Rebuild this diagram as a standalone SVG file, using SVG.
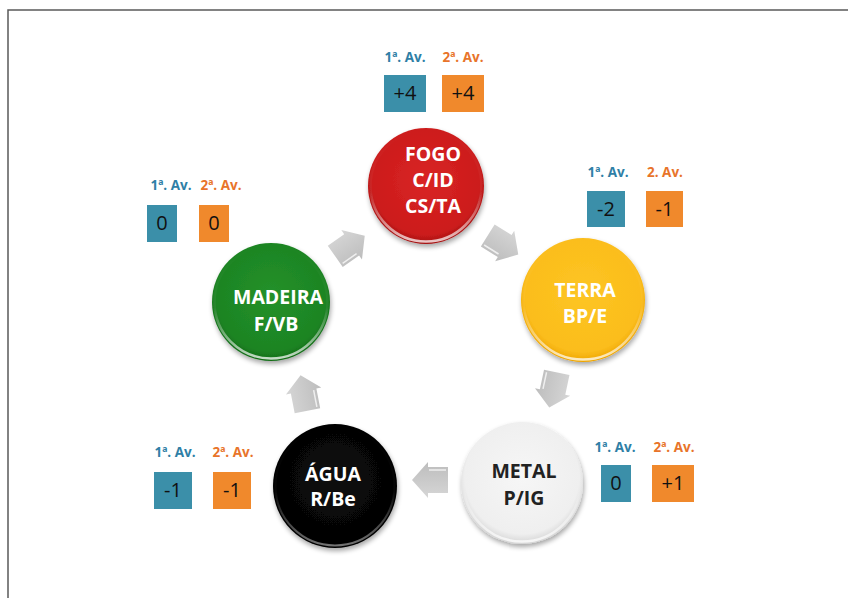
<svg xmlns="http://www.w3.org/2000/svg" width="848" height="598" viewBox="0 0 848 598">
<style>
.frame{fill:none;stroke:#5a5a5a;stroke-width:1.5}
.nt{font-family:"Open Sans","Liberation Sans",sans-serif;font-weight:bold;font-size:19.5px;text-anchor:middle;fill:#ffffff}
.ntd{fill:#222222}
.lb{font-family:"Open Sans","Liberation Sans",sans-serif;font-weight:bold;font-size:13.5px;text-anchor:middle}
.l1{fill:#2f7fa6}
.l2{fill:#e8742a}
.b1{fill:#3b8fa9}
.b2{fill:#f0892c}
.bt{font-family:"Open Sans","Liberation Sans",sans-serif;font-size:20px;text-anchor:middle;fill:#111111}
.arr{fill:url(#ga)}
.arrh{fill:none;stroke:#f4f4f4;stroke-width:1.5;opacity:0.9}
</style>
<defs>
<filter id="sh" x="-20%" y="-20%" width="140%" height="140%">
<feGaussianBlur in="SourceAlpha" stdDeviation="2.5"/>
<feOffset dx="1" dy="3" result="b"/>
<feComponentTransfer><feFuncA type="linear" slope="0.35"/></feComponentTransfer>
<feMerge><feMergeNode/><feMergeNode in="SourceGraphic"/></feMerge>
</filter>
<radialGradient id="gr" cx="0.5" cy="0.45" r="0.55">
<stop offset="0" stop-color="#d92424"/><stop offset="0.85" stop-color="#cc1c1c"/><stop offset="1" stop-color="#a31212"/>
</radialGradient>
<radialGradient id="gy" cx="0.5" cy="0.45" r="0.55">
<stop offset="0" stop-color="#fdc523"/><stop offset="0.85" stop-color="#fbbd1c"/><stop offset="1" stop-color="#eea400"/>
</radialGradient>
<radialGradient id="gw" cx="0.5" cy="0.45" r="0.55">
<stop offset="0" stop-color="#f6f6f6"/><stop offset="0.85" stop-color="#efefef"/><stop offset="1" stop-color="#d4d4d4"/>
</radialGradient>
<radialGradient id="gk" cx="0.5" cy="0.45" r="0.55">
<stop offset="0" stop-color="#0a0a0a"/><stop offset="0.85" stop-color="#050505"/><stop offset="1" stop-color="#000000"/>
</radialGradient>
<radialGradient id="gg" cx="0.5" cy="0.45" r="0.55">
<stop offset="0" stop-color="#23912a"/><stop offset="0.85" stop-color="#1d8423"/><stop offset="1" stop-color="#136b18"/>
</radialGradient>
<linearGradient id="rim" x1="0" y1="0" x2="0" y2="1">
<stop offset="0" stop-color="#ffffff" stop-opacity="0"/><stop offset="0.55" stop-color="#ffffff" stop-opacity="0.05"/><stop offset="1" stop-color="#ffffff" stop-opacity="0.75"/>
</linearGradient>
<linearGradient id="ga" x1="0" y1="0" x2="0" y2="1">
<stop offset="0" stop-color="#d6d6d6"/><stop offset="1" stop-color="#bdbdbd"/>
</linearGradient>
<polygon id="ar" points="-18,-13 2,-13 2,-18 18,0 2,18 2,13 -18,13"/>
</defs>

<rect width="848" height="598" fill="#ffffff"/>
<path class="frame" d="M8,598 V10 H848"/>

<g id="connectors">
<g transform="translate(350,246) rotate(-35)"><use href="#ar" class="arr"/><path class="arrh" d="M-16,10 H1"/></g>
<g transform="translate(503,245) rotate(32)"><use href="#ar" class="arr"/><path class="arrh" d="M-16,10 H1"/></g>
<g transform="translate(553,390) rotate(102)"><use href="#ar" class="arr"/><path class="arrh" d="M-16,10 H1"/></g>
<g transform="translate(430,480) rotate(180)"><use href="#ar" class="arr"/><path class="arrh" d="M-16,10 H1"/></g>
<g transform="translate(304,393) rotate(-101)"><use href="#ar" class="arr"/><path class="arrh" d="M-16,10 H1"/></g>
</g>

<g id="fogo">
<circle cx="426" cy="186" r="58" fill="url(#gr)" filter="url(#sh)"/>
<circle cx="426" cy="186" r="55.5" fill="none" stroke="url(#rim)" stroke-width="2.5"/>
<text class="nt" x="433" y="161">FOGO</text>
<text class="nt" x="433" y="187">C/ID</text>
<text class="nt" x="433" y="213">CS/TA</text>
<text class="lb l1" x="405" y="62">1ª. Av.</text>
<text class="lb l2" x="463" y="62">2ª. Av.</text>
<rect class="b1" x="384" y="75" width="42" height="37"/>
<rect class="b2" x="442" y="75" width="42" height="37"/>
<text class="bt" x="405" y="100">+4</text>
<text class="bt" x="463" y="100">+4</text>
</g>

<g id="terra">
<circle cx="583" cy="300" r="62" fill="url(#gy)" filter="url(#sh)"/>
<circle cx="583" cy="300" r="59.5" fill="none" stroke="url(#rim)" stroke-width="2.5"/>
<text class="nt" x="585" y="297">TERRA</text>
<text class="nt" x="585" y="323">BP/E</text>
<text class="lb l1" x="608" y="177">1ª. Av.</text>
<text class="lb l2" x="665" y="177">2. Av.</text>
<rect class="b1" x="587" y="191" width="38" height="36"/>
<rect class="b2" x="646" y="191" width="37" height="36"/>
<text class="bt" x="606" y="216">-2</text>
<text class="bt" x="664.5" y="216">-1</text>
</g>

<g id="metal">
<circle cx="522" cy="483" r="61" fill="url(#gw)" filter="url(#sh)"/>
<circle cx="522" cy="483" r="58.5" fill="none" stroke="url(#rim)" stroke-width="2.5"/>
<text class="nt ntd" x="524" y="478">METAL</text>
<text class="nt ntd" x="524" y="505">P/IG</text>
<text class="lb l1" x="615" y="452">1ª. Av.</text>
<text class="lb l2" x="674" y="452">2ª. Av.</text>
<rect class="b1" x="601" y="465" width="30" height="37"/>
<rect class="b2" x="652" y="465" width="42" height="37"/>
<text class="bt" x="616" y="490">0</text>
<text class="bt" x="673" y="490">+1</text>
</g>

<g id="agua">
<circle cx="335" cy="486" r="62" fill="url(#gk)" filter="url(#sh)"/>
<circle cx="335" cy="486" r="59.5" fill="none" stroke="url(#rim)" stroke-width="2" opacity="0.6"/>
<text class="nt" x="333" y="481">ÁGUA</text>
<text class="nt" x="333" y="506">R/Be</text>
<text class="lb l1" x="175" y="457">1ª. Av.</text>
<text class="lb l2" x="233" y="457">2ª. Av.</text>
<rect class="b1" x="154" y="472" width="38" height="37"/>
<rect class="b2" x="213" y="472" width="38" height="37"/>
<text class="bt" x="173" y="497">-1</text>
<text class="bt" x="232" y="497">-1</text>
</g>

<g id="madeira">
<circle cx="271" cy="302" r="59" fill="url(#gg)" filter="url(#sh)"/>
<circle cx="271" cy="302" r="56.5" fill="none" stroke="url(#rim)" stroke-width="2.5"/>
<text class="nt" x="278" y="304">MADEIRA</text>
<text class="nt" x="276" y="331">F/VB</text>
<text class="lb l1" x="171" y="190">1ª. Av.</text>
<text class="lb l2" x="221" y="190">2ª. Av.</text>
<rect class="b1" x="147" y="205" width="30" height="37"/>
<rect class="b2" x="199" y="205" width="30" height="37"/>
<text class="bt" x="162" y="230">0</text>
<text class="bt" x="214" y="230">0</text>
</g>
</svg>
